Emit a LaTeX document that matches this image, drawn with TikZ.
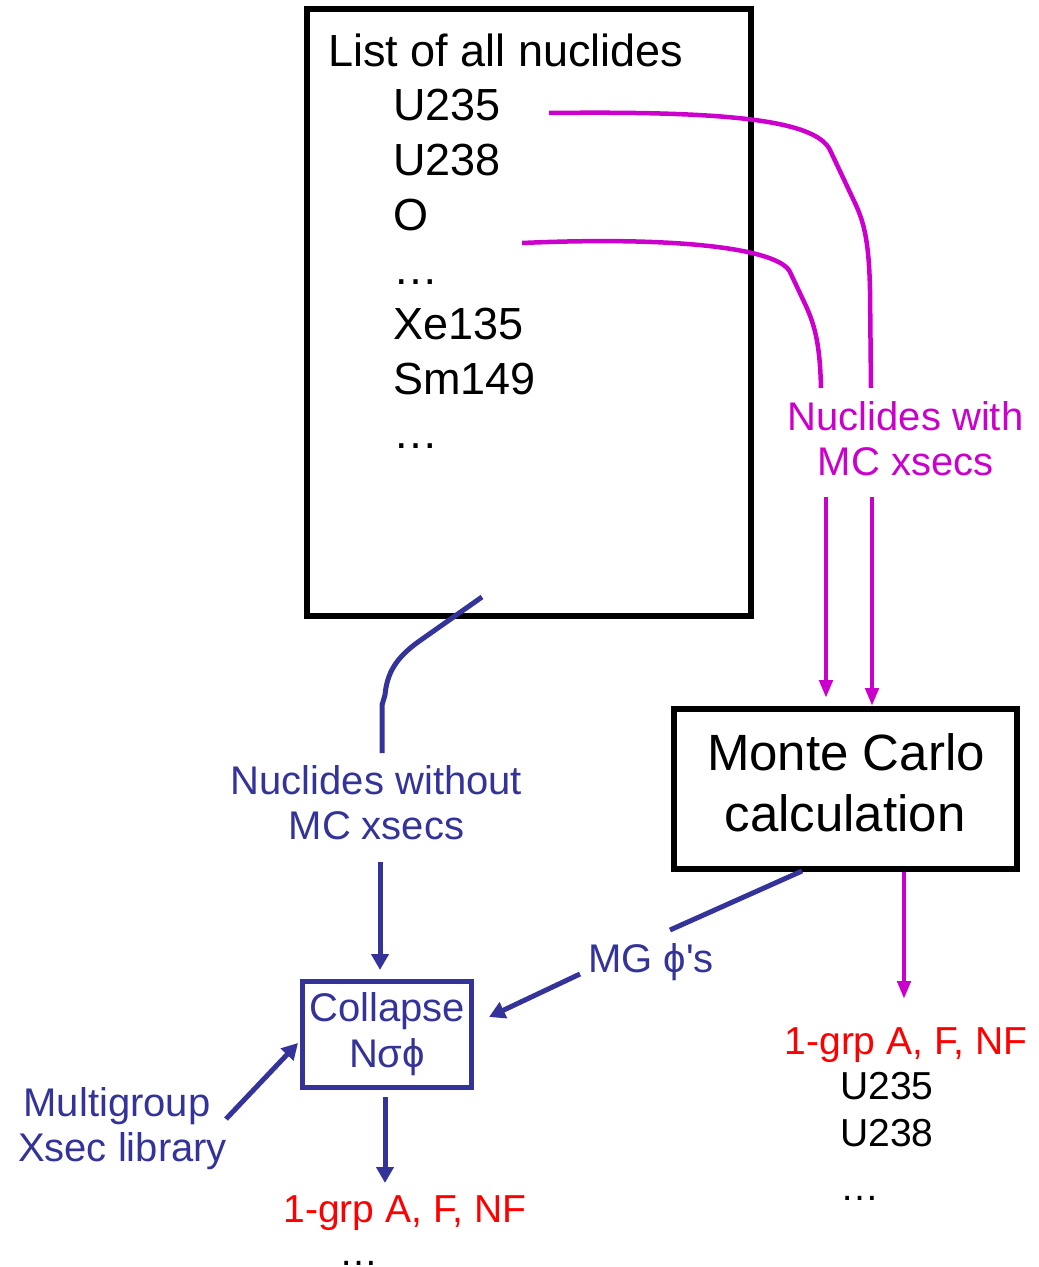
\documentclass[tikz,border=0pt]{standalone}
\usepackage{fontspec}
\setmainfont{Liberation Sans}
\usetikzlibrary{arrows.meta}
\definecolor{navy}{HTML}{333399}
\definecolor{mag}{HTML}{CC00CC}
\definecolor{redt}{HTML}{FF0000}
\begin{document}
\begin{tikzpicture}[x=1pt,y=-1pt,
  txt/.style={inner sep=0pt,anchor=base},
  big/.style={font=\fontsize{45}{54}\selectfont},
  mid/.style={font=\fontsize{40}{46}\selectfont},
  sml/.style={font=\fontsize{39}{46}\selectfont},
  blackbox/.style={draw=black,line width=6pt,inner sep=0pt},
  magline/.style={draw=mag,line width=4.5pt},
  magarrow/.style={magline,-{Triangle[length=18pt,width=13pt]}},
  navline/.style={draw=navy,line width=5pt},
  navarrow/.style={navline,-{Triangle[length=16pt,width=17pt]}}]
\useasboundingbox (0,0) rectangle (1039,1267);

% list box
\node[blackbox,minimum width=444pt,minimum height=607pt] (list) at (529,312.5) {};
\node[txt,big,anchor=base west] (title) at (328,66) {List of all nuclides};
\foreach \t [count=\i] in {U235,U238,O,…,Xe135,Sm149,…}
  \node[txt,big,anchor=base west] (item\i) at (393,{66+54.7*\i}) {\t};

% Monte Carlo box
\node[blackbox,minimum width=343pt,minimum height=160pt] (mc) at (845.5,789) {};
\node[txt,font=\fontsize{51}{61}\selectfont] (mc1) at (846,770) {Monte Carlo};
\node[txt,font=\fontsize{51}{61}\selectfont] (mc2) at (845,831) {calculation};

% Collapse box
\node[draw=navy,line width=5pt,minimum width=169pt,minimum height=106pt,inner sep=0pt] (col) at (386.5,1034) {};
\node[txt,mid,text=navy] (col1) at (387,1021) {Collapse};
\node[txt,mid,text=navy] (col2) at (387,1067) {Nσϕ};

% labels
\node[txt,mid,text=mag] (mw1) at (905.5,430) {Nuclides with};
\node[txt,mid,text=mag] (mw2) at (905.5,475) {MC xsecs};
\node[txt,mid,text=navy] (nw1) at (376.5,794) {Nuclides without};
\node[txt,mid,text=navy] (nw2) at (376.5,839) {MC xsecs};
\node[txt,mid,text=navy] (mg) at (651,972) {MG ϕ\textquotesingle s};
\node[txt,mid,text=navy] (ml1) at (117,1116) {Multigroup};
\node[txt,mid,text=navy] (ml2) at (122.5,1161) {Xsec library};

% outputs
\node[txt,sml,text=redt] (r1) at (906,1054) {1-grp A, F, NF};
\node[txt,sml,anchor=base west] (r2) at (840,1099) {U235};
\node[txt,sml,anchor=base west] (r3) at (840,1146) {U238};
\node[txt,sml,anchor=base west] (r4) at (840,1200) {…};
\node[txt,sml,text=redt] (l1) at (405,1222) {1-grp A, F, NF};
\node[txt,sml,anchor=base west] (l2) at (339,1265) {…};

% coordinates for free ends
\coordinate (pA) at (549,113);
\coordinate (pAe) at (871,388);
\coordinate (pB) at (522,243);
\coordinate (pBe) at (821,388);
\coordinate (aA) at (826,497);
\coordinate (aAe) at (826,698);
\coordinate (aB) at (872,497);
\coordinate (aBe) at (872,706);
\coordinate (nA) at (482,597);
\coordinate (nAe) at (382,753);
\coordinate (nB) at (380,862);
\coordinate (nBe) at (380,970);
\coordinate (mgs) at (802,871);
\coordinate (mga) at (670,930);
\coordinate (mgb) at (580,974);
\coordinate (mge) at (489,1017);
\coordinate (mls) at (226,1119);
\coordinate (mle) at (298,1043);
\coordinate (cds) at (385,1097);
\coordinate (cde) at (385,1183);
\coordinate (mcs) at (904,872);
\coordinate (mce) at (904,999);

% magenta connectors
\draw[magline] (pA) .. controls (720,111) and (815,119) .. (830,150) -- (855,203)
   .. controls (865,224) and (869,245) .. (870,290) -- (pAe);
\draw[magline] (pB) .. controls (680,236) and (779,249) .. (790,272) -- (806,306)
   .. controls (815,326) and (820,345) .. (pBe);
\draw[magarrow] (aA) -- (aAe);
\draw[magarrow] (aB) -- (aBe);
\draw[magarrow] (mcs) -- (mce);

% navy connectors
\draw[navline] (nA) -- (418,642) .. controls (396,658) and (387,673) .. (385,695) -- (382,705) -- (nAe);
\draw[navarrow] (nB) -- (nBe);
\draw[navline] (mgs) -- (mga);
\draw[navarrow] (mgb) -- (mge);
\draw[navarrow] (mls) -- (mle);
\draw[navarrow] (cds) -- (cde);
\end{tikzpicture}
\end{document}
